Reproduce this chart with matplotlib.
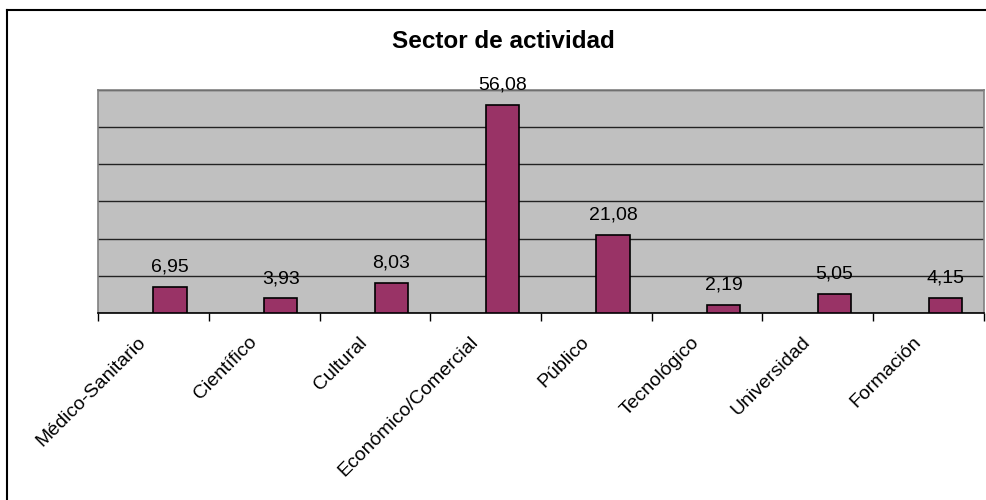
import matplotlib
matplotlib.use("Agg")
import matplotlib.pyplot as plt
import matplotlib.transforms as mtransforms
import numpy as np
from matplotlib.lines import Line2D

plt.rcParams['font.family'] = ['Liberation Sans', 'DejaVu Sans']

categories = ["Médico-Sanitario", "Científico", "Cultural", "Económico/Comercial",
              "Público", "Tecnológico", "Universidad", "Formación"]
values = [6.95, 3.93, 8.03, 56.08, 21.08, 2.19, 5.05, 4.15]

fig = plt.figure(figsize=(9.86, 5.0), dpi=100)
ax = fig.add_axes([98/986, 1 - 313/500, (984 - 98)/986, (313 - 90)/500])

x = np.arange(len(categories))
bars = ax.bar(x + 0.65, values, width=0.3, color="#993366", edgecolor="black",
              linewidth=1.2, zorder=3)

ax.set_xlim(0, len(categories))
ax.set_ylim(0, 60)
ax.set_facecolor("#C0C0C0")

# gridlines
ax.set_yticks(np.arange(0, 61, 10))
ax.yaxis.grid(True, color="#222222", linewidth=1.0, zorder=1)
ax.tick_params(axis='y', left=False, labelleft=False)

# category labels at centers, ticks at boundaries
ax.set_xticks(x + 0.5)
ax.set_xticklabels(categories, rotation=45, ha='right', va='top',
                   rotation_mode='anchor', fontsize=14)
ax.tick_params(axis='x', which='major', length=0, pad=12)
ax.set_xticks(np.arange(0, len(categories) + 1), minor=True)
ax.tick_params(axis='x', which='minor', length=6, width=1, color="black")

shift = mtransforms.ScaledTranslation(-16/100, -4/100, fig.dpi_scale_trans)
for lbl in ax.get_xticklabels():
    lbl.set_transform(lbl.get_transform() + shift)

for s in ['top', 'right', 'left']:
    ax.spines[s].set_color("#808080")
    ax.spines[s].set_linewidth(1.2)
ax.spines['bottom'].set_color("black")
ax.spines['bottom'].set_linewidth(1.2)

for b, v in zip(bars, values):
    ax.annotate(f"{v:.2f}".replace('.', ','),
                (b.get_x() + b.get_width() / 2, v),
                xytext=(0, 11), textcoords='offset points',
                ha='center', va='baseline', fontsize=14, zorder=4)

fig.text(503/986, 1 - 42/500, "Sector de actividad", ha='center', va='center',
         fontsize=17.5, fontweight='bold')

# outer chart border (only top and left visible)
fig.add_artist(Line2D([7/986, 7/986], [0, 1 - 10/500], transform=fig.transFigure,
                      color="black", linewidth=1.5))
fig.add_artist(Line2D([7/986, 1], [1 - 10/500, 1 - 10/500], transform=fig.transFigure,
                      color="black", linewidth=1.5))

fig.savefig("out.png", dpi=100)
